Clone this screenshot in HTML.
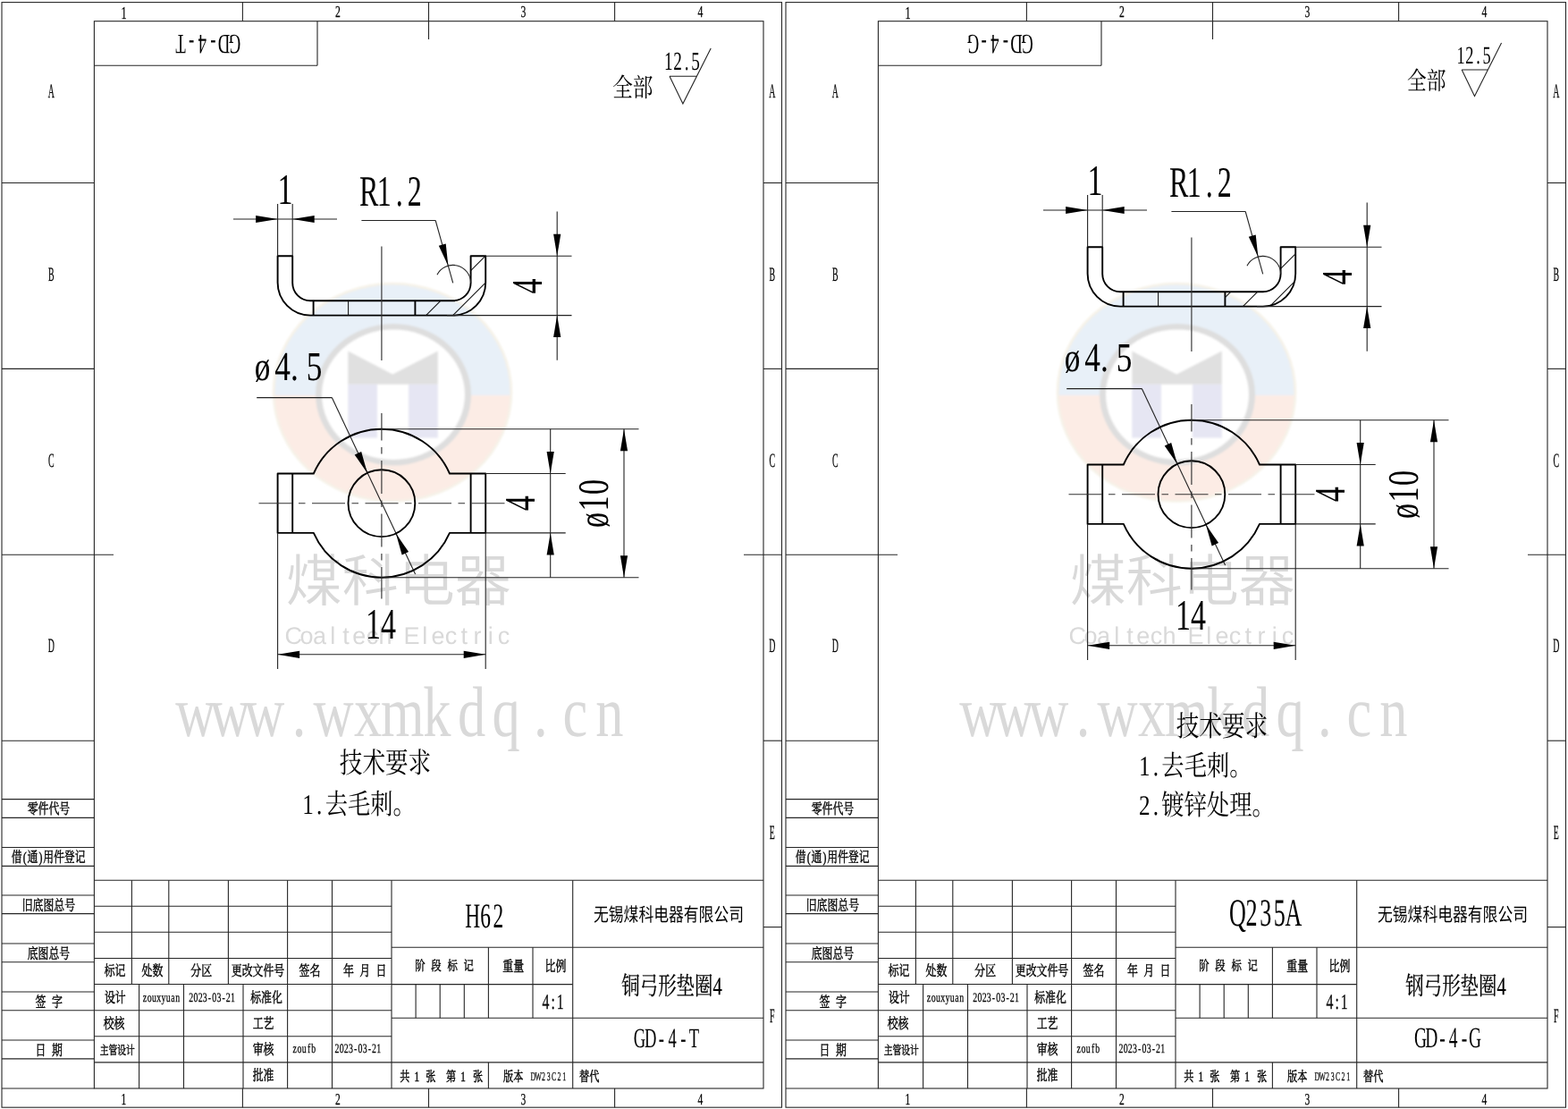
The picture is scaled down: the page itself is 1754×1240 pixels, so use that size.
<!DOCTYPE html>
<html lang="zh-CN">
<head>
<meta charset="utf-8">
<title>GD-4-T / GD-4-G 弓形垫圈4</title>
<style>
html,body{margin:0;padding:0;background:#fff;}
body{width:1754px;height:1240px;overflow:hidden;}
svg{display:block;will-change:transform;}
text{text-rendering:geometricPrecision;}
.se{font-family:"Liberation Serif","Noto Serif CJK SC",serif;}
.sa{font-family:"Liberation Sans","Noto Sans CJK SC",sans-serif;}
.t{stroke:#262626;stroke-width:1.1;fill:none;}
.d{stroke:#222;stroke-width:1.1;fill:none;}
.c{stroke:#333;stroke-width:1.15;fill:none;}
.k{stroke:#000;stroke-width:1.9;fill:none;stroke-linejoin:round;}
.h{stroke:#111;stroke-width:1.05;fill:none;}
.ar{fill:#000;stroke:none;}
.b{stroke:#000;stroke-width:0.45px;stroke-linejoin:round;}
.b1{stroke:#000;stroke-width:0.25px;stroke-linejoin:round;}
</style>
</head>
<body>
<svg width="1754" height="1240" viewBox="0 0 1754 1240">
<defs><filter id="wb" x="-5%" y="-5%" width="110%" height="110%"><feGaussianBlur stdDeviation="0.8"/></filter></defs>
<rect width="1754" height="1240" fill="#fff"/>
<g transform="translate(0,0)">
<g filter="url(#wb)">
<clipPath id="ct0"><rect x="290" y="300" width="300" height="142"/></clipPath>
<clipPath id="cb0"><rect x="290" y="442" width="300" height="160"/></clipPath>
<ellipse cx="439" cy="438.8" rx="134.3" ry="123" fill="#f6f2e8"/>
<ellipse cx="439" cy="438.8" rx="131.5" ry="120.2" fill="#e8f0f8" clip-path="url(#ct0)"/>
<ellipse cx="439" cy="438.8" rx="131.5" ry="120.2" fill="#fcece5" clip-path="url(#cb0)"/>
<ellipse cx="440" cy="441.2" rx="87" ry="79.2" fill="#dedede"/>
<ellipse cx="440" cy="441.2" rx="80" ry="72.8" fill="#fff"/>
<path d="M389.3 392.6L439.2 418.5L489.8 392.6V429.8H389.3Z" fill="#e0e0e0"/>
<rect x="389.3" y="429.8" width="32.7" height="59.8" fill="#e6e6f3"/>
<rect x="457" y="429.8" width="32.8" height="59.8" fill="#e6e6f3"/>
</g>
</g>
<g transform="translate(0,0)" fill="#d9d9d9">
<text class="sa" transform="translate(445.8,671.5)" font-size="63" text-anchor="middle" font-weight="350">煤科电器</text>
<text class="sa" transform="translate(445.8,719.5)" font-size="27" text-anchor="middle" x="-117.6 -102.9 -88.2 -73.5 -58.8 -44.1 -29.4 -14.7 0 14.7 29.4 44.1 58.8 73.5 88.2 102.9 117.6">Coaltech Electric</text>
<text class="se" transform="translate(450.3,823.3) scale(0.78,1)" font-size="80" text-anchor="middle" x="-296.92 -247.44 -197.95 -148.46 -98.97 -49.49 0 49.49 98.97 148.46 197.95 247.44 296.92">www.wxmkdq.cn</text>
</g>
<g transform="translate(877,0)">
<g filter="url(#wb)">
<clipPath id="ct877"><rect x="290" y="300" width="300" height="142"/></clipPath>
<clipPath id="cb877"><rect x="290" y="442" width="300" height="160"/></clipPath>
<ellipse cx="439" cy="438.8" rx="134.3" ry="123" fill="#f6f2e8"/>
<ellipse cx="439" cy="438.8" rx="131.5" ry="120.2" fill="#e8f0f8" clip-path="url(#ct877)"/>
<ellipse cx="439" cy="438.8" rx="131.5" ry="120.2" fill="#fcece5" clip-path="url(#cb877)"/>
<ellipse cx="440" cy="441.2" rx="87" ry="79.2" fill="#dedede"/>
<ellipse cx="440" cy="441.2" rx="80" ry="72.8" fill="#fff"/>
<path d="M389.3 392.6L439.2 418.5L489.8 392.6V429.8H389.3Z" fill="#e0e0e0"/>
<rect x="389.3" y="429.8" width="32.7" height="59.8" fill="#e6e6f3"/>
<rect x="457" y="429.8" width="32.8" height="59.8" fill="#e6e6f3"/>
</g>
</g>
<g transform="translate(877,0)" fill="#d9d9d9">
<text class="sa" transform="translate(445.8,671.5)" font-size="63" text-anchor="middle" font-weight="350">煤科电器</text>
<text class="sa" transform="translate(445.8,719.5)" font-size="27" text-anchor="middle" x="-117.6 -102.9 -88.2 -73.5 -58.8 -44.1 -29.4 -14.7 0 14.7 29.4 44.1 58.8 73.5 88.2 102.9 117.6">Coaltech Electric</text>
<text class="se" transform="translate(450.3,823.3) scale(0.78,1)" font-size="80" text-anchor="middle" x="-296.92 -247.44 -197.95 -148.46 -98.97 -49.49 0 49.49 98.97 148.46 197.95 247.44 296.92">www.wxmkdq.cn</text>
</g>
<g transform="translate(0,0)">
<rect class="t" x="2" y="2.6" width="872.5" height="1235.6"/>
<rect class="t" x="105.4" y="23.7" width="748.6" height="1193.3"/>
<path class="t" d="M271.4 2.6L271.4 23.7"/>
<path class="t" d="M271.4 1217L271.4 1238.2"/>
<path class="t" d="M479.5 2.6L479.5 44"/>
<path class="t" d="M479.5 1217L479.5 1238.2"/>
<path class="t" d="M687.6 2.6L687.6 23.7"/>
<path class="t" d="M687.6 1217L687.6 1238.2"/>
<text class="se b1" transform="translate(138.5,21.2) scale(0.62,1)" font-size="19.8" text-anchor="middle">1</text>
<text class="se b1" transform="translate(138.5,1234.8) scale(0.64,1)" font-size="18" text-anchor="middle">1</text>
<text class="se b1" transform="translate(378,19.3) scale(0.64,1)" font-size="18.3" text-anchor="middle">2</text>
<text class="se b1" transform="translate(378,1234.8) scale(0.64,1)" font-size="18" text-anchor="middle">2</text>
<text class="se b1" transform="translate(585.5,19.3) scale(0.64,1)" font-size="18.3" text-anchor="middle">3</text>
<text class="se b1" transform="translate(585.5,1234.8) scale(0.64,1)" font-size="18" text-anchor="middle">3</text>
<text class="se b1" transform="translate(783.5,19.3) scale(0.64,1)" font-size="18.3" text-anchor="middle">4</text>
<text class="se b1" transform="translate(783.5,1234.8) scale(0.64,1)" font-size="18" text-anchor="middle">4</text>
<path class="t" d="M2 204.5L105.4 204.5"/>
<path class="t" d="M2 412.4L105.4 412.4"/>
<path class="t" d="M2 620.3L127 620.3"/>
<path class="t" d="M2 828.2L105.4 828.2"/>
<path class="t" d="M854 204.5L874.5 204.5"/>
<path class="t" d="M854 412.4L874.5 412.4"/>
<path class="t" d="M832 620.3L874.5 620.3"/>
<path class="t" d="M854 828.2L874.5 828.2"/>
<path class="t" d="M854 1036.6L874.5 1036.6"/>
<text class="se b1" transform="translate(57.3,109.4) scale(0.45,1)" font-size="22" text-anchor="middle">A</text>
<text class="se b1" transform="translate(57.3,314.3) scale(0.45,1)" font-size="22" text-anchor="middle">B</text>
<text class="se b1" transform="translate(57.3,522.3) scale(0.45,1)" font-size="22" text-anchor="middle">C</text>
<text class="se b1" transform="translate(57.3,729.3) scale(0.45,1)" font-size="22" text-anchor="middle">D</text>
<text class="se b1" transform="translate(863.8,109.4) scale(0.45,1)" font-size="22" text-anchor="middle">A</text>
<text class="se b1" transform="translate(863.8,314.3) scale(0.45,1)" font-size="22" text-anchor="middle">B</text>
<text class="se b1" transform="translate(863.8,522.3) scale(0.45,1)" font-size="22" text-anchor="middle">C</text>
<text class="se b1" transform="translate(863.8,729.3) scale(0.45,1)" font-size="22" text-anchor="middle">D</text>
<text class="se b1" transform="translate(863.8,938.3) scale(0.45,1)" font-size="22" text-anchor="middle">E</text>
<text class="se b1" transform="translate(863.8,1143.3) scale(0.45,1)" font-size="22" text-anchor="middle">F</text>
<path class="t" d="M2 893.6L105.4 893.6"/>
<path class="t" d="M2 914.4L105.4 914.4"/>
<path class="t" d="M2 947.5L105.4 947.5"/>
<path class="t" d="M2 968.4L105.4 968.4"/>
<path class="t" d="M2 1001L105.4 1001"/>
<path class="t" d="M2 1021.6L105.4 1021.6"/>
<path class="t" d="M2 1055L105.4 1055"/>
<path class="t" d="M2 1075.7L105.4 1075.7"/>
<path class="t" d="M2 1109L105.4 1109"/>
<path class="t" d="M2 1129.7L105.4 1129.7"/>
<path class="t" d="M2 1163L105.4 1163"/>
<path class="t" d="M2 1183.9L105.4 1183.9"/>
<path class="t" d="M2 1217L105.4 1217"/>
<text class="se b" transform="translate(54.4,910.3) scale(0.72,1)" font-size="16.5" text-anchor="middle">零件代号</text>
<text class="se b" transform="translate(54.4,1017.5) scale(0.72,1)" font-size="16.5" text-anchor="middle">旧底图总号</text>
<text class="se b" transform="translate(54.4,1071.5) scale(0.72,1)" font-size="16.5" text-anchor="middle">底图总号</text>
<text class="se b" transform="translate(54.2,964.2) scale(0.72,1)" font-size="16.5" text-anchor="middle" x="-49.17 -36.88 -24.58 -12.29 0 16.39 32.78 49.17">借(通)用件登记</text>
<text class="se b" transform="translate(54.7,1125.5) scale(0.72,1)" font-size="16.5" text-anchor="middle" x="-12.85 0 12.85">签 字</text>
<text class="se b" transform="translate(54.7,1179.7) scale(0.72,1)" font-size="16.5" text-anchor="middle" x="-12.85 0 12.85">日 期</text>
<path class="t" d="M105.4 73.3L355 73.3"/>
<path class="t" d="M355 23.7L355 73.3"/>
<text class="se" transform="translate(232.3,38.5) rotate(180) scale(0.6,1)" font-size="31" text-anchor="middle" x="-50.42 -30.25 -10.08 10.08 30.25 50.42">GD-4-T</text>
<path class="t" d="M105.4 984.3L854 984.3"/>
<path class="t" d="M105.4 1013.3L438 1013.3"/>
<path class="t" d="M105.4 1042.3L438 1042.3"/>
<path class="t" d="M105.4 1071.5L438 1071.5"/>
<path class="t" d="M105.4 1100.5L438 1100.5"/>
<path class="t" d="M105.4 1129.7L438 1129.7"/>
<path class="t" d="M105.4 1158.8L438 1158.8"/>
<path class="t" d="M105.4 1187.9L438 1187.9"/>
<path class="t" d="M147.4 984.3L147.4 1100.5"/>
<path class="t" d="M188.8 984.3L188.8 1100.5"/>
<path class="t" d="M255.4 984.3L255.4 1100.5"/>
<path class="t" d="M155.6 1100.5L155.6 1217"/>
<path class="t" d="M205.5 1100.5L205.5 1217"/>
<path class="t" d="M272 1100.5L272 1217"/>
<path class="t" d="M321.6 984.3L321.6 1217"/>
<path class="t" d="M371.5 984.3L371.5 1217"/>
<path class="t" d="M438 984.3L438 1217"/>
<path class="t" d="M640.7 984.3L640.7 1217"/>
<path class="t" d="M438 1059.2L854 1059.2"/>
<path class="t" d="M438 1100.6L640.7 1100.6"/>
<path class="t" d="M438 1138.2L854 1138.2"/>
<path class="t" d="M438 1187.9L854 1187.9"/>
<path class="t" d="M546.4 1059.2L546.4 1138.2"/>
<path class="t" d="M596 1059.2L596 1138.2"/>
<path class="t" d="M465.1 1100.6L465.1 1138.2"/>
<path class="t" d="M492.2 1100.6L492.2 1138.2"/>
<path class="t" d="M519.3 1100.6L519.3 1138.2"/>
<path class="t" d="M546.4 1187.9L546.4 1217"/>
<text class="se b" transform="translate(128.6,1091.3) scale(0.73,1)" font-size="16.3" text-anchor="middle">标记</text>
<text class="se b" transform="translate(170.4,1091.3) scale(0.73,1)" font-size="16.3" text-anchor="middle">处数</text>
<text class="se b" transform="translate(225.2,1091.3) scale(0.73,1)" font-size="16.3" text-anchor="middle">分区</text>
<text class="se b" transform="translate(288.5,1091.3) scale(0.73,1)" font-size="16.3" text-anchor="middle">更改文件号</text>
<text class="se b" transform="translate(346.5,1091.3) scale(0.73,1)" font-size="16.3" text-anchor="middle">签名</text>
<text class="se b" transform="translate(408.2,1091.3) scale(0.73,1)" font-size="16.3" text-anchor="middle" x="-25.07 -12.53 0 12.53 25.07">年 月 日</text>
<text class="se b" transform="translate(128.8,1120.6) scale(0.73,1)" font-size="16.3" text-anchor="middle">设计</text>
<text class="se b" transform="translate(127.6,1149.8) scale(0.73,1)" font-size="16.3" text-anchor="middle">校核</text>
<text class="se b" transform="translate(131.3,1179.3) scale(0.72,1)" font-size="13.6" text-anchor="middle">主管设计</text>
<text class="se b" transform="translate(298,1120.6) scale(0.73,1)" font-size="16.3" text-anchor="middle">标准化</text>
<text class="se b" transform="translate(294.6,1149.8) scale(0.73,1)" font-size="16.3" text-anchor="middle">工艺</text>
<text class="se b" transform="translate(294.6,1178.8) scale(0.73,1)" font-size="16.3" text-anchor="middle">审核</text>
<text class="se b" transform="translate(294.6,1208) scale(0.73,1)" font-size="16.3" text-anchor="middle">批准</text>
<text class="se b1" transform="translate(180.3,1120.3) scale(0.68,1)" font-size="14.5" text-anchor="middle" x="-27.02 -19.3 -11.58 -3.86 3.86 11.58 19.3 27.02">zouxyuan</text>
<text class="se b1" transform="translate(237.1,1120.3) scale(0.68,1)" font-size="14.5" text-anchor="middle" x="-34.41 -26.76 -19.12 -11.47 -3.82 3.82 11.47 19.12 26.76 34.41">2023-03-21</text>
<text class="se b1" transform="translate(340.3,1176.9) scale(0.68,1)" font-size="14.5" text-anchor="middle" x="-15.44 -7.72 0 7.72 15.44">zoufb</text>
<text class="se b1" transform="translate(400.3,1176.9) scale(0.68,1)" font-size="14.5" text-anchor="middle" x="-34.41 -26.76 -19.12 -11.47 -3.82 3.82 11.47 19.12 26.76 34.41">2023-03-21</text>
<text class="se" transform="translate(543,1036.6) scale(0.6,1)" font-size="39" text-anchor="middle" x="-23.83 0 23.83">H62</text>
<text class="sa" transform="translate(748,1029.5) scale(0.8,1)" font-size="21" text-anchor="middle">无锡煤科电器有限公司</text>
<text class="se b" transform="translate(497.1,1085.3) scale(0.76,1)" font-size="15" text-anchor="middle" x="-35.72 -23.82 -11.91 0 11.91 23.82 35.72">阶 段 标 记</text>
<text class="se b" transform="translate(574.2,1085.5) scale(0.73,1)" font-size="16.3" text-anchor="middle">重量</text>
<text class="se b" transform="translate(621.5,1085.5) scale(0.73,1)" font-size="16.3" text-anchor="middle">比例</text>
<text class="se b1" transform="translate(618.6,1128) scale(0.66,1)" font-size="24" text-anchor="middle" x="-12.42 0 12.42">4:1</text>
<text class="se b1" transform="translate(751.5,1112) scale(0.73,1)" font-size="28" text-anchor="middle">铜弓形垫圈4</text>
<text class="se" transform="translate(746,1171.3) scale(0.6,1)" font-size="31" text-anchor="middle" x="-50.83 -30.5 -10.17 10.17 30.5 50.83">GD-4-T</text>
<text class="se b" transform="translate(452.8,1208.6) scale(0.72,1)" font-size="15.5" text-anchor="middle" x="0 9.31 18.75 29.17 40.42 55.56 72.08 81.25 90.56 102.08 113.61">共 1 张 第 1 张</text>
<text class="se b" transform="translate(563,1208.6) scale(0.72,1)" font-size="15.5">版本</text>
<text class="se b1" transform="translate(593.5,1207.5) scale(0.58,1)" font-size="13.5" text-anchor="middle" x="5 15 25 35 45 55 65">DW23C21</text>
<text class="se b" transform="translate(648,1208.6) scale(0.72,1)" font-size="15.5">替代</text>
</g>
<g transform="translate(0,0)">
<text class="se" transform="translate(431,864) scale(0.8,1)" font-size="32" text-anchor="middle">技术要求</text>
<text class="se" transform="translate(338.3,909.5) scale(0.8,1)" font-size="31.5" text-anchor="middle" x="7.91 23.72 47.44 79.06 110.69 142.31">1.去毛刺。</text>
</g>
<g transform="translate(877,0)">
<rect class="t" x="2" y="2.6" width="872.5" height="1235.6"/>
<rect class="t" x="105.4" y="23.7" width="748.6" height="1193.3"/>
<path class="t" d="M271.4 2.6L271.4 23.7"/>
<path class="t" d="M271.4 1217L271.4 1238.2"/>
<path class="t" d="M479.5 2.6L479.5 44"/>
<path class="t" d="M479.5 1217L479.5 1238.2"/>
<path class="t" d="M687.6 2.6L687.6 23.7"/>
<path class="t" d="M687.6 1217L687.6 1238.2"/>
<text class="se b1" transform="translate(138.5,21.2) scale(0.62,1)" font-size="19.8" text-anchor="middle">1</text>
<text class="se b1" transform="translate(138.5,1234.8) scale(0.64,1)" font-size="18" text-anchor="middle">1</text>
<text class="se b1" transform="translate(378,19.3) scale(0.64,1)" font-size="18.3" text-anchor="middle">2</text>
<text class="se b1" transform="translate(378,1234.8) scale(0.64,1)" font-size="18" text-anchor="middle">2</text>
<text class="se b1" transform="translate(585.5,19.3) scale(0.64,1)" font-size="18.3" text-anchor="middle">3</text>
<text class="se b1" transform="translate(585.5,1234.8) scale(0.64,1)" font-size="18" text-anchor="middle">3</text>
<text class="se b1" transform="translate(783.5,19.3) scale(0.64,1)" font-size="18.3" text-anchor="middle">4</text>
<text class="se b1" transform="translate(783.5,1234.8) scale(0.64,1)" font-size="18" text-anchor="middle">4</text>
<path class="t" d="M2 204.5L105.4 204.5"/>
<path class="t" d="M2 412.4L105.4 412.4"/>
<path class="t" d="M2 620.3L127 620.3"/>
<path class="t" d="M2 828.2L105.4 828.2"/>
<path class="t" d="M854 204.5L874.5 204.5"/>
<path class="t" d="M854 412.4L874.5 412.4"/>
<path class="t" d="M832 620.3L874.5 620.3"/>
<path class="t" d="M854 828.2L874.5 828.2"/>
<path class="t" d="M854 1036.6L874.5 1036.6"/>
<text class="se b1" transform="translate(57.3,109.4) scale(0.45,1)" font-size="22" text-anchor="middle">A</text>
<text class="se b1" transform="translate(57.3,314.3) scale(0.45,1)" font-size="22" text-anchor="middle">B</text>
<text class="se b1" transform="translate(57.3,522.3) scale(0.45,1)" font-size="22" text-anchor="middle">C</text>
<text class="se b1" transform="translate(57.3,729.3) scale(0.45,1)" font-size="22" text-anchor="middle">D</text>
<text class="se b1" transform="translate(863.8,109.4) scale(0.45,1)" font-size="22" text-anchor="middle">A</text>
<text class="se b1" transform="translate(863.8,314.3) scale(0.45,1)" font-size="22" text-anchor="middle">B</text>
<text class="se b1" transform="translate(863.8,522.3) scale(0.45,1)" font-size="22" text-anchor="middle">C</text>
<text class="se b1" transform="translate(863.8,729.3) scale(0.45,1)" font-size="22" text-anchor="middle">D</text>
<text class="se b1" transform="translate(863.8,938.3) scale(0.45,1)" font-size="22" text-anchor="middle">E</text>
<text class="se b1" transform="translate(863.8,1143.3) scale(0.45,1)" font-size="22" text-anchor="middle">F</text>
<path class="t" d="M2 893.6L105.4 893.6"/>
<path class="t" d="M2 914.4L105.4 914.4"/>
<path class="t" d="M2 947.5L105.4 947.5"/>
<path class="t" d="M2 968.4L105.4 968.4"/>
<path class="t" d="M2 1001L105.4 1001"/>
<path class="t" d="M2 1021.6L105.4 1021.6"/>
<path class="t" d="M2 1055L105.4 1055"/>
<path class="t" d="M2 1075.7L105.4 1075.7"/>
<path class="t" d="M2 1109L105.4 1109"/>
<path class="t" d="M2 1129.7L105.4 1129.7"/>
<path class="t" d="M2 1163L105.4 1163"/>
<path class="t" d="M2 1183.9L105.4 1183.9"/>
<path class="t" d="M2 1217L105.4 1217"/>
<text class="se b" transform="translate(54.4,910.3) scale(0.72,1)" font-size="16.5" text-anchor="middle">零件代号</text>
<text class="se b" transform="translate(54.4,1017.5) scale(0.72,1)" font-size="16.5" text-anchor="middle">旧底图总号</text>
<text class="se b" transform="translate(54.4,1071.5) scale(0.72,1)" font-size="16.5" text-anchor="middle">底图总号</text>
<text class="se b" transform="translate(54.2,964.2) scale(0.72,1)" font-size="16.5" text-anchor="middle" x="-49.17 -36.88 -24.58 -12.29 0 16.39 32.78 49.17">借(通)用件登记</text>
<text class="se b" transform="translate(54.7,1125.5) scale(0.72,1)" font-size="16.5" text-anchor="middle" x="-12.85 0 12.85">签 字</text>
<text class="se b" transform="translate(54.7,1179.7) scale(0.72,1)" font-size="16.5" text-anchor="middle" x="-12.85 0 12.85">日 期</text>
<path class="t" d="M105.4 73.3L355 73.3"/>
<path class="t" d="M355 23.7L355 73.3"/>
<text class="se" transform="translate(241.8,38.5) rotate(180) scale(0.6,1)" font-size="31" text-anchor="middle" x="-50.42 -30.25 -10.08 10.08 30.25 50.42">GD-4-G</text>
<path class="t" d="M105.4 984.3L854 984.3"/>
<path class="t" d="M105.4 1013.3L438 1013.3"/>
<path class="t" d="M105.4 1042.3L438 1042.3"/>
<path class="t" d="M105.4 1071.5L438 1071.5"/>
<path class="t" d="M105.4 1100.5L438 1100.5"/>
<path class="t" d="M105.4 1129.7L438 1129.7"/>
<path class="t" d="M105.4 1158.8L438 1158.8"/>
<path class="t" d="M105.4 1187.9L438 1187.9"/>
<path class="t" d="M147.4 984.3L147.4 1100.5"/>
<path class="t" d="M188.8 984.3L188.8 1100.5"/>
<path class="t" d="M255.4 984.3L255.4 1100.5"/>
<path class="t" d="M155.6 1100.5L155.6 1217"/>
<path class="t" d="M205.5 1100.5L205.5 1217"/>
<path class="t" d="M272 1100.5L272 1217"/>
<path class="t" d="M321.6 984.3L321.6 1217"/>
<path class="t" d="M371.5 984.3L371.5 1217"/>
<path class="t" d="M438 984.3L438 1217"/>
<path class="t" d="M640.7 984.3L640.7 1217"/>
<path class="t" d="M438 1059.2L854 1059.2"/>
<path class="t" d="M438 1100.6L640.7 1100.6"/>
<path class="t" d="M438 1138.2L854 1138.2"/>
<path class="t" d="M438 1187.9L854 1187.9"/>
<path class="t" d="M546.4 1059.2L546.4 1138.2"/>
<path class="t" d="M596 1059.2L596 1138.2"/>
<path class="t" d="M465.1 1100.6L465.1 1138.2"/>
<path class="t" d="M492.2 1100.6L492.2 1138.2"/>
<path class="t" d="M519.3 1100.6L519.3 1138.2"/>
<path class="t" d="M546.4 1187.9L546.4 1217"/>
<text class="se b" transform="translate(128.6,1091.3) scale(0.73,1)" font-size="16.3" text-anchor="middle">标记</text>
<text class="se b" transform="translate(170.4,1091.3) scale(0.73,1)" font-size="16.3" text-anchor="middle">处数</text>
<text class="se b" transform="translate(225.2,1091.3) scale(0.73,1)" font-size="16.3" text-anchor="middle">分区</text>
<text class="se b" transform="translate(288.5,1091.3) scale(0.73,1)" font-size="16.3" text-anchor="middle">更改文件号</text>
<text class="se b" transform="translate(346.5,1091.3) scale(0.73,1)" font-size="16.3" text-anchor="middle">签名</text>
<text class="se b" transform="translate(408.2,1091.3) scale(0.73,1)" font-size="16.3" text-anchor="middle" x="-25.07 -12.53 0 12.53 25.07">年 月 日</text>
<text class="se b" transform="translate(128.8,1120.6) scale(0.73,1)" font-size="16.3" text-anchor="middle">设计</text>
<text class="se b" transform="translate(127.6,1149.8) scale(0.73,1)" font-size="16.3" text-anchor="middle">校核</text>
<text class="se b" transform="translate(131.3,1179.3) scale(0.72,1)" font-size="13.6" text-anchor="middle">主管设计</text>
<text class="se b" transform="translate(298,1120.6) scale(0.73,1)" font-size="16.3" text-anchor="middle">标准化</text>
<text class="se b" transform="translate(294.6,1149.8) scale(0.73,1)" font-size="16.3" text-anchor="middle">工艺</text>
<text class="se b" transform="translate(294.6,1178.8) scale(0.73,1)" font-size="16.3" text-anchor="middle">审核</text>
<text class="se b" transform="translate(294.6,1208) scale(0.73,1)" font-size="16.3" text-anchor="middle">批准</text>
<text class="se b1" transform="translate(180.3,1120.3) scale(0.68,1)" font-size="14.5" text-anchor="middle" x="-27.02 -19.3 -11.58 -3.86 3.86 11.58 19.3 27.02">zouxyuan</text>
<text class="se b1" transform="translate(237.1,1120.3) scale(0.68,1)" font-size="14.5" text-anchor="middle" x="-34.41 -26.76 -19.12 -11.47 -3.82 3.82 11.47 19.12 26.76 34.41">2023-03-21</text>
<text class="se b1" transform="translate(340.3,1176.9) scale(0.68,1)" font-size="14.5" text-anchor="middle" x="-15.44 -7.72 0 7.72 15.44">zoufb</text>
<text class="se b1" transform="translate(400.3,1176.9) scale(0.68,1)" font-size="14.5" text-anchor="middle" x="-34.41 -26.76 -19.12 -11.47 -3.82 3.82 11.47 19.12 26.76 34.41">2023-03-21</text>
<text class="se" transform="translate(538.7,1035.2) scale(0.6,1)" font-size="43.5" text-anchor="middle" x="-52 -26 0 26 52">Q235A</text>
<text class="sa" transform="translate(748,1029.5) scale(0.8,1)" font-size="21" text-anchor="middle">无锡煤科电器有限公司</text>
<text class="se b" transform="translate(497.1,1085.3) scale(0.76,1)" font-size="15" text-anchor="middle" x="-35.72 -23.82 -11.91 0 11.91 23.82 35.72">阶 段 标 记</text>
<text class="se b" transform="translate(574.2,1085.5) scale(0.73,1)" font-size="16.3" text-anchor="middle">重量</text>
<text class="se b" transform="translate(621.5,1085.5) scale(0.73,1)" font-size="16.3" text-anchor="middle">比例</text>
<text class="se b1" transform="translate(618.6,1128) scale(0.66,1)" font-size="24" text-anchor="middle" x="-12.42 0 12.42">4:1</text>
<text class="se b1" transform="translate(751.5,1112) scale(0.73,1)" font-size="28" text-anchor="middle">钢弓形垫圈4</text>
<text class="se" transform="translate(742.6,1171.3) scale(0.6,1)" font-size="32.5" text-anchor="middle" x="-50.83 -30.5 -10.17 10.17 30.5 50.83">GD-4-G</text>
<text class="se b" transform="translate(452.8,1208.6) scale(0.72,1)" font-size="15.5" text-anchor="middle" x="0 9.31 18.75 29.17 40.42 55.56 72.08 81.25 90.56 102.08 113.61">共 1 张 第 1 张</text>
<text class="se b" transform="translate(563,1208.6) scale(0.72,1)" font-size="15.5">版本</text>
<text class="se b1" transform="translate(593.5,1207.5) scale(0.58,1)" font-size="13.5" text-anchor="middle" x="5 15 25 35 45 55 65">DW23C21</text>
<text class="se b" transform="translate(648,1208.6) scale(0.72,1)" font-size="15.5">替代</text>
</g>
<g transform="translate(877,0)">
<text class="se" transform="translate(490,823) scale(0.8,1)" font-size="32" text-anchor="middle">技术要求</text>
<text class="se" transform="translate(397,867) scale(0.8,1)" font-size="31.5" text-anchor="middle" x="7.91 23.72 47.44 79.06 110.69 142.31">1.去毛刺。</text>
<text class="se" transform="translate(397,911) scale(0.8,1)" font-size="31.5" text-anchor="middle" x="7.91 23.72 47.44 79.06 110.69 142.31 173.94">2.镀锌处理。</text>
</g>
<g transform="translate(0,0)">
<path class="k" d="M310.6 286.3H327.2V316.3A19.9 19.9 0 0 0 347.1 336.2H506.7A19.9 19.9 0 0 0 526.6 316.3V286.3H543.2V316.1A36.5 36.5 0 0 1 506.7 352.6H347.1A36.5 36.5 0 0 1 310.6 316.1Z"/>
<path class="k" d="M350.6 336.2L350.6 352.6"/>
<path class="k" d="M464.4 336.2L464.4 352.6"/>
<path class="h" d="M389.6 336.2L389.6 352.6"/>
<clipPath id="hc0"><path d="M310.6 286.3H327.2V316.3A19.9 19.9 0 0 0 347.1 336.2H506.7A19.9 19.9 0 0 0 526.6 316.3V286.3H543.2V316.1A36.5 36.5 0 0 1 506.7 352.6H347.1A36.5 36.5 0 0 1 310.6 316.1Z" clip-rule="nonzero"/></clipPath>
<clipPath id="hx0"><rect x="464.4" y="280" width="90" height="80"/></clipPath>
<g clip-path="url(#hx0)"><g clip-path="url(#hc0)">
<path class="h" d="M472.6 356.6L546.9 282.3"/>
<path class="h" d="M502.6 356.6L576.9 282.3"/>
</g></g>
<path class="d" d="M488.97 307.27A19.9 19.9 0 0 1 526.6 316.3"/>
<path class="c" d="M426.9 275.5L426.9 403"/>
<path class="d" d="M310.6 228L310.6 286.3"/>
<path class="d" d="M327.2 228L327.2 286.3"/>
<path class="d" d="M261 245L377 245"/>
<path class="ar" d="M310.6 245L286.1 249.1L286.1 240.9Z"/>
<path class="ar" d="M327.2 245L351.7 240.9L351.7 249.1Z"/>
<text class="se" transform="translate(319,228) scale(0.7,1)" font-size="48.5" text-anchor="middle" x="0">1</text>
<text class="se" transform="translate(438.3,229.8) scale(0.66,1)" font-size="48.5" text-anchor="middle" x="-38.64 -12.88 12.88 38.64">R1.2</text>
<path class="d" d="M404.4 246.5L487.2 246.5"/>
<path class="d" d="M487.2 246.5L506.7 316.3"/>
<path class="ar" d="M501.35 297.13L490.8 274.64L498.7 272.43Z"/>
<path class="d" d="M543.2 286.3L639.5 286.3"/>
<path class="d" d="M500 352.6L639.5 352.6"/>
<path class="d" d="M623.2 236.5L623.2 402.8"/>
<path class="ar" d="M623.2 286.3L619.1 261.8L627.3 261.8Z"/>
<path class="ar" d="M623.2 352.6L627.3 377.1L619.1 377.1Z"/>
<text class="se" transform="translate(605.6,320) rotate(-90) scale(0.7,1)" font-size="48.5" text-anchor="middle" x="0">4</text>
<text class="se" transform="translate(0,425.4) scale(0.77,1)" font-size="45.8" text-anchor="middle" x="381.17 410.39 427.92 456.49">ø4.5</text>
<path class="d" d="M287.2 444.6L371.3 444.6"/>
<path class="d" d="M371.3 444.6L464.6 642"/>
<path class="ar" d="M410.92 528.89L396.74 508.49L404.16 504.98Z"/>
<path class="ar" d="M442.88 596.51L457.06 616.91L449.64 620.42Z"/>
<circle class="k" cx="426.9" cy="562.7" r="37.4"/>
<path class="k" d="M310.6 529.5H350.83A83 83 0 0 1 502.97 529.5H543.2V595.9H502.97A83 83 0 0 1 350.83 595.9H310.6Z"/>
<path class="k" d="M327.2 529.5L327.2 595.9"/>
<path class="k" d="M526.6 529.5L526.6 595.9"/>
<path class="c" stroke-dasharray="37 7.5 7.5 7.5" d="M289.5 562.7H565.5"/>
<path class="c" stroke-dasharray="37 7.5 7.5 7.5" stroke-dashoffset="6.5" d="M426.9 462V669.5"/>
<path class="d" d="M543.2 529.5L632.7 529.5"/>
<path class="d" d="M543.2 595.9L632.7 595.9"/>
<path class="d" d="M615.7 479.7L615.7 645.7"/>
<path class="ar" d="M615.7 529.5L611.6 505L619.8 505Z"/>
<path class="ar" d="M615.7 595.9L619.8 620.4L611.6 620.4Z"/>
<text class="se" transform="translate(597.8,562.7) rotate(-90) scale(0.7,1)" font-size="48.5" text-anchor="middle" x="0">4</text>
<path class="d" d="M426.9 479.7L714.5 479.7"/>
<path class="d" d="M426.9 645.7L714.5 645.7"/>
<path class="d" d="M698 479.7L698 645.7"/>
<path class="ar" d="M698 479.7L702.1 504.2L693.9 504.2Z"/>
<path class="ar" d="M698 645.7L693.9 621.2L702.1 621.2Z"/>
<text class="se" transform="translate(679.5,563) rotate(-90) scale(0.7,1)" font-size="48.5" text-anchor="middle" x="-26.43 0 26.43">ø10</text>
<path class="d" d="M310.6 595.9L310.6 748"/>
<path class="d" d="M543.2 595.9L543.2 748"/>
<path class="d" d="M310.6 731.8L543.2 731.8"/>
<path class="ar" d="M310.6 731.8L335.1 727.7L335.1 735.9Z"/>
<path class="ar" d="M543.2 731.8L518.7 735.9L518.7 727.7Z"/>
<text class="se" transform="translate(426,713.5) scale(0.7,1)" font-size="48.5" text-anchor="middle" x="-12.14 12.14">14</text>
</g>
<g transform="translate(906,-10)">
<path class="k" d="M310.6 286.3H327.2V316.3A19.9 19.9 0 0 0 347.1 336.2H506.7A19.9 19.9 0 0 0 526.6 316.3V286.3H543.2V316.1A36.5 36.5 0 0 1 506.7 352.6H347.1A36.5 36.5 0 0 1 310.6 316.1Z"/>
<path class="k" d="M350.6 336.2L350.6 352.6"/>
<path class="k" d="M464.4 336.2L464.4 352.6"/>
<path class="h" d="M389.6 336.2L389.6 352.6"/>
<clipPath id="hc1"><path d="M310.6 286.3H327.2V316.3A19.9 19.9 0 0 0 347.1 336.2H506.7A19.9 19.9 0 0 0 526.6 316.3V286.3H543.2V316.1A36.5 36.5 0 0 1 506.7 352.6H347.1A36.5 36.5 0 0 1 310.6 316.1Z" clip-rule="nonzero"/></clipPath>
<clipPath id="hx1"><rect x="464.4" y="280" width="90" height="80"/></clipPath>
<g clip-path="url(#hx1)"><g clip-path="url(#hc1)">
<path class="h" d="M450.4 356.6L524.7 282.3"/>
<path class="h" d="M480.4 356.6L554.7 282.3"/>
<path class="h" d="M510.4 356.6L584.7 282.3"/>
</g></g>
<path class="d" d="M488.97 307.27A19.9 19.9 0 0 1 526.6 316.3"/>
<path class="c" d="M426.9 275.5L426.9 403"/>
<path class="d" d="M310.6 228L310.6 286.3"/>
<path class="d" d="M327.2 228L327.2 286.3"/>
<path class="d" d="M261 245L377 245"/>
<path class="ar" d="M310.6 245L286.1 249.1L286.1 240.9Z"/>
<path class="ar" d="M327.2 245L351.7 240.9L351.7 249.1Z"/>
<text class="se" transform="translate(319,228) scale(0.7,1)" font-size="48.5" text-anchor="middle" x="0">1</text>
<text class="se" transform="translate(438.3,229.8) scale(0.66,1)" font-size="48.5" text-anchor="middle" x="-38.64 -12.88 12.88 38.64">R1.2</text>
<path class="d" d="M404.4 246.5L487.2 246.5"/>
<path class="d" d="M487.2 246.5L506.7 316.3"/>
<path class="ar" d="M501.35 297.13L490.8 274.64L498.7 272.43Z"/>
<path class="d" d="M543.2 286.3L639.5 286.3"/>
<path class="d" d="M500 352.6L639.5 352.6"/>
<path class="d" d="M623.2 236.5L623.2 402.8"/>
<path class="ar" d="M623.2 286.3L619.1 261.8L627.3 261.8Z"/>
<path class="ar" d="M623.2 352.6L627.3 377.1L619.1 377.1Z"/>
<text class="se" transform="translate(605.6,320) rotate(-90) scale(0.7,1)" font-size="48.5" text-anchor="middle" x="0">4</text>
<text class="se" transform="translate(0,425.4) scale(0.77,1)" font-size="45.8" text-anchor="middle" x="381.17 410.39 427.92 456.49">ø4.5</text>
<path class="d" d="M287.2 444.6L371.3 444.6"/>
<path class="d" d="M371.3 444.6L464.6 642"/>
<path class="ar" d="M410.92 528.89L396.74 508.49L404.16 504.98Z"/>
<path class="ar" d="M442.88 596.51L457.06 616.91L449.64 620.42Z"/>
<circle class="k" cx="426.9" cy="562.7" r="37.4"/>
<path class="k" d="M310.6 529.5H350.83A83 83 0 0 1 502.97 529.5H543.2V595.9H502.97A83 83 0 0 1 350.83 595.9H310.6Z"/>
<path class="k" d="M327.2 529.5L327.2 595.9"/>
<path class="k" d="M526.6 529.5L526.6 595.9"/>
<path class="c" stroke-dasharray="37 7.5 7.5 7.5" d="M289.5 562.7H565.5"/>
<path class="c" stroke-dasharray="37 7.5 7.5 7.5" stroke-dashoffset="6.5" d="M426.9 462V669.5"/>
<path class="d" d="M543.2 529.5L632.7 529.5"/>
<path class="d" d="M543.2 595.9L632.7 595.9"/>
<path class="d" d="M615.7 479.7L615.7 645.7"/>
<path class="ar" d="M615.7 529.5L611.6 505L619.8 505Z"/>
<path class="ar" d="M615.7 595.9L619.8 620.4L611.6 620.4Z"/>
<text class="se" transform="translate(597.8,562.7) rotate(-90) scale(0.7,1)" font-size="48.5" text-anchor="middle" x="0">4</text>
<path class="d" d="M426.9 479.7L714.5 479.7"/>
<path class="d" d="M426.9 645.7L714.5 645.7"/>
<path class="d" d="M698 479.7L698 645.7"/>
<path class="ar" d="M698 479.7L702.1 504.2L693.9 504.2Z"/>
<path class="ar" d="M698 645.7L693.9 621.2L702.1 621.2Z"/>
<text class="se" transform="translate(679.5,563) rotate(-90) scale(0.7,1)" font-size="48.5" text-anchor="middle" x="-26.43 0 26.43">ø10</text>
<path class="d" d="M310.6 595.9L310.6 748"/>
<path class="d" d="M543.2 595.9L543.2 748"/>
<path class="d" d="M310.6 731.8L543.2 731.8"/>
<path class="ar" d="M310.6 731.8L335.1 727.7L335.1 735.9Z"/>
<path class="ar" d="M543.2 731.8L518.7 735.9L518.7 727.7Z"/>
<text class="se" transform="translate(426,713.5) scale(0.7,1)" font-size="48.5" text-anchor="middle" x="-12.14 12.14">14</text>
</g>
<g transform="translate(763.9,116) scale(1) translate(-763.9,-116)">
<text class="se" transform="translate(707.8,108) scale(0.78,1)" font-size="29" text-anchor="middle">全部</text>
<text class="se" transform="translate(763,78.3) scale(0.66,1)" font-size="29" text-anchor="middle" x="-22.95 -7.65 7.65 22.95">12.5</text>
<path class="d" d="M749 85.3H779.2M749 85.3L763.9 116L795.2 54"/>
</g>
<g transform="translate(1649.5,107.5) scale(0.96) translate(-763.9,-116)">
<text class="se" transform="translate(707.8,108) scale(0.78,1)" font-size="29" text-anchor="middle">全部</text>
<text class="se" transform="translate(763,78.3) scale(0.66,1)" font-size="29" text-anchor="middle" x="-22.95 -7.65 7.65 22.95">12.5</text>
<path class="d" d="M749 85.3H779.2M749 85.3L763.9 116L795.2 54"/>
</g>
</svg>
</body>
</html>
